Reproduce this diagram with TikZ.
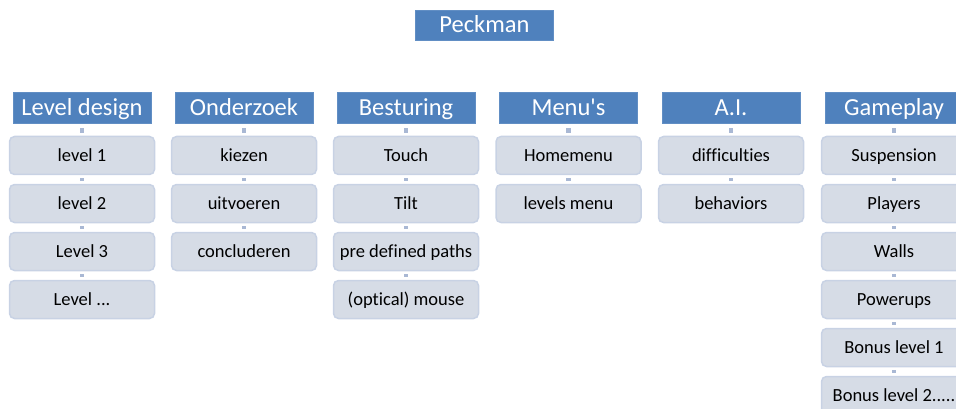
\documentclass[tikz,border=0pt]{standalone}
\usepackage{fontspec}
\setmainfont{Carlito}[Ligatures={TeXOff,CommonOff}]
\definecolor{hdr}{HTML}{4F81BD}
\definecolor{chf}{HTML}{D6DCE6}
\definecolor{chd}{HTML}{C8D2E4}
\definecolor{con}{HTML}{A9B8D4}
\begin{document}
\begin{tikzpicture}[x=1pt,y=-1pt,
  hbox/.style={fill=hdr,draw=hdr!90!white,line width=0.6pt,minimum width=138pt,minimum height=31pt,inner sep=0pt,text height=19pt,text depth=3pt,text=white,font=\fontsize{24.5}{26}\selectfont},
  cbox/.style={fill=chf,draw=chd,line width=1.5pt,rounded corners=5pt,minimum width=145pt,minimum height=38pt,inner sep=0pt,text height=14pt,text depth=2pt,text=black,font=\fontsize{18.5}{20}\selectfont},
  hcon/.style={draw=con,line width=4.5pt,shorten <=5pt,shorten >=3pt},
  ccon/.style={draw=con,line width=4.5pt,shorten <=3pt,shorten >=3pt}]
\useasboundingbox (0,0) rectangle (956,409);
\node[hbox,minimum height=30pt] (root) at (484.5,25) {Peckman};
% headers
\node[hbox] (h1) at (82,107.5) {Level design};
\node[hbox] (h2) at (244,107.5) {Onderzoek};
\node[hbox] (h3) at (406,107.5) {Besturing};
\node[hbox] (h4) at (568.5,107.5) {Menu's};
\node[hbox] (h5) at (731,107.5) {A.I.};
\node[hbox] (h6) at (894,107.5) {Gameplay};
% column 1
\node[cbox] (a1) at (82,155.5) {level 1};
\node[cbox] (a2) at (82,203.5) {level 2};
\node[cbox] (a3) at (82,251.5) {Level 3};
\node[cbox] (a4) at (82,299.5) {Level ...};
\draw[hcon] (h1) -- (a1); \draw[ccon] (a1) -- (a2); \draw[ccon] (a2) -- (a3); \draw[ccon] (a3) -- (a4);
% column 2
\node[cbox] (b1) at (244,155.5) {kiezen};
\node[cbox] (b2) at (244,203.5) {uitvoeren};
\node[cbox] (b3) at (244,251.5) {concluderen};
\draw[hcon] (h2) -- (b1); \draw[ccon] (b1) -- (b2); \draw[ccon] (b2) -- (b3);
% column 3
\node[cbox] (c1) at (406,155.5) {Touch};
\node[cbox] (c2) at (406,203.5) {Tilt};
\node[cbox] (c3) at (406,251.5) {pre defined paths};
\node[cbox] (c4) at (406,299.5) {(optical) mouse};
\draw[hcon] (h3) -- (c1); \draw[ccon] (c1) -- (c2); \draw[ccon] (c2) -- (c3); \draw[ccon] (c3) -- (c4);
% column 4
\node[cbox] (d1) at (568.5,155.5) {Homemenu};
\node[cbox] (d2) at (568.5,203.5) {levels menu};
\draw[hcon] (h4) -- (d1); \draw[ccon] (d1) -- (d2);
% column 5
\node[cbox] (e1) at (731,155.5) {difficulties};
\node[cbox] (e2) at (731,203.5) {behaviors};
\draw[hcon] (h5) -- (e1); \draw[ccon] (e1) -- (e2);
% column 6
\node[cbox] (f1) at (894,155.5) {Suspension};
\node[cbox] (f2) at (894,203.5) {Players};
\node[cbox] (f3) at (894,251.5) {Walls};
\node[cbox] (f4) at (894,299.5) {Powerups};
\node[cbox] (f5) at (894,347.5) {Bonus level 1};
\node[cbox] (f6) at (894,395.5) {Bonus level 2.....};
\draw[hcon] (h6) -- (f1); \draw[ccon] (f1) -- (f2); \draw[ccon] (f2) -- (f3); \draw[ccon] (f3) -- (f4); \draw[ccon] (f4) -- (f5); \draw[ccon] (f5) -- (f6);
\end{tikzpicture}
\end{document}
